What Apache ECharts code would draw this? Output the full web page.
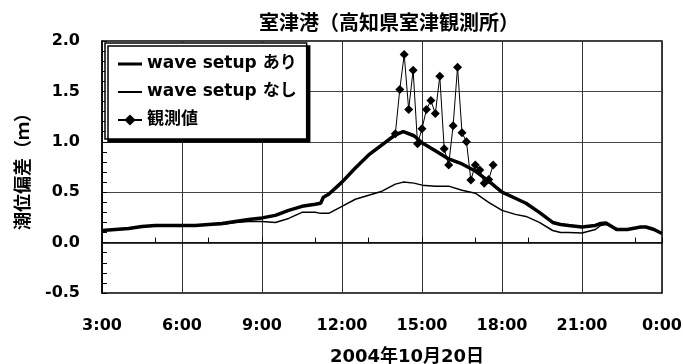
<!DOCTYPE html>
<html>
<head>
<meta charset="utf-8">
<script src="https://cdn.jsdelivr.net/npm/echarts@6/dist/echarts.min.js"></script>
<style>
  html, body { margin: 0; padding: 0; background: #fff; }
  #chart { width: 683px; height: 364px; }
</style>
</head>
<body>
<div id="chart"></div>
<script>
// 時刻（時）
const setupHours = [3.0, 3.5, 4.0, 4.5, 5.0, 5.5, 6.0, 6.5, 7.0, 7.5, 8.0, 8.5, 9.0, 9.5, 10.0, 10.5,
  11.0, 11.2, 11.3, 11.5, 12.0, 12.5, 13.0, 13.5, 14.0, 14.3, 14.7, 15.0, 15.5, 16.0, 16.5,
  17.0, 17.5, 18.0, 18.5, 18.9, 19.4, 19.9, 20.2, 20.5, 21.0, 21.5, 21.7, 21.9, 22.3, 22.7,
  23.2, 23.4, 23.7, 24.0];
// wave setup あり
const setupOn = [0.12, 0.13, 0.14, 0.16, 0.17, 0.17, 0.17, 0.17, 0.18, 0.19, 0.21, 0.23, 0.245, 0.27, 0.32, 0.36,
  0.38, 0.39, 0.45, 0.48, 0.60, 0.74, 0.87, 0.97, 1.07, 1.10, 1.06, 0.99, 0.91, 0.83, 0.78,
  0.71, 0.61, 0.50, 0.44, 0.39, 0.30, 0.20, 0.18, 0.17, 0.155, 0.17, 0.19, 0.195, 0.13, 0.13,
  0.155, 0.155, 0.13, 0.09];
// wave setup なし
const setupOff = [0.12, 0.13, 0.14, 0.16, 0.17, 0.17, 0.17, 0.17, 0.18, 0.18, 0.20, 0.21, 0.21, 0.20, 0.24, 0.30,
  0.30, 0.29, 0.29, 0.29, 0.36, 0.43, 0.47, 0.51, 0.58, 0.60, 0.59, 0.57, 0.56, 0.56, 0.52,
  0.49, 0.40, 0.32, 0.28, 0.26, 0.20, 0.12, 0.10, 0.10, 0.095, 0.13, 0.17, 0.18, 0.14, 0.13,
  0.15, 0.155, 0.13, 0.09];
// 観測値 (14:00〜17:40, 10分毎)
const obsHours = [14.0, 14.167, 14.333, 14.5, 14.667, 14.833, 15.0, 15.167, 15.333, 15.5, 15.667, 15.833,
  16.0, 16.167, 16.333, 16.5, 16.667, 16.833, 17.0, 17.167, 17.333, 17.5, 17.667];
const obsValues = [1.08, 1.52, 1.865, 1.32, 1.71, 0.98, 1.13, 1.32, 1.41, 1.28, 1.65, 0.93,
  0.77, 1.16, 1.74, 1.09, 1.00, 0.62, 0.77, 0.72, 0.59, 0.625, 0.77];
const yTicks = ['-0.5', '0.0', '0.5', '1.0', '1.5', '2.0'];

const pair = (xs, ys) => xs.map((x, i) => [x, ys[i]]);
const FONT = '"DejaVu Sans", "Noto Sans CJK JP", sans-serif';
const txt = (size) => ({ fontSize: size, fontWeight: 'bold', color: '#000', fontFamily: FONT });

const chart = echarts.init(document.getElementById('chart'));
chart.setOption({
  animation: false,
  textStyle: { fontFamily: FONT },
  title: {
    text: '室津港（高知県室津観測所）',
    left: 384,
    top: 10,
    textAlign: 'center',
    textStyle: txt(20),
  },
  grid: {
    left: 102, right: 21, top: 41, bottom: 71,
    outerBoundsMode: 'none',
    show: true, borderColor: '#000', borderWidth: 1.5, backgroundColor: '#fff',
  },
  legend: {
    orient: 'vertical',
    left: 105,
    top: 43,
    padding: [12, 10, 10, 12],
    itemGap: 10,
    itemWidth: 24,
    itemHeight: 14,
    backgroundColor: '#fff',
    borderColor: '#000',
    borderWidth: 1.5,
    shadowColor: '#000',
    shadowBlur: 0,
    shadowOffsetX: 3,
    shadowOffsetY: 3,
    textStyle: Object.assign(txt(17), { lineHeight: 18 }),
    data: [
      { name: 'wave setup あり', icon: 'path://M0,0H24V3H0Z' },
      { name: 'wave setup なし', icon: 'path://M0,0H24V2H0Z' },
      { name: '観測値' },
    ],
  },
  xAxis: [{
    type: 'value',
    min: 3,
    max: 24,
    interval: 3,
    name: '2004年10月20日',
    nameLocation: 'middle',
    nameGap: 55,
    nameTextStyle: Object.assign(txt(18), { padding: [0, 0, 0, 50] }),
    axisLine: { lineStyle: { color: '#000', width: 1.5 } },
    axisTick: { show: false },
    axisLabel: Object.assign(txt(16), {
      margin: 25,
      formatter: (v) => `${v % 24}:00`,
    }),
    splitLine: { show: true, lineStyle: { color: '#333', width: 1 } },
  }, {
    type: 'value',
    position: 'bottom',
    min: 3,
    max: 24,
    interval: 2,
    axisLine: { show: false },
    axisLabel: { show: false },
    axisTick: { show: true, inside: true, length: 5, lineStyle: { color: '#000' } },
    splitLine: { show: false },
  }],
  yAxis: [{
    type: 'value',
    min: -0.5,
    max: 2.0,
    interval: 0.5,
    name: '潮位偏差（ｍ）',
    nameLocation: 'middle',
    nameGap: 69,
    nameTextStyle: txt(18),
    axisLine: { show: true, lineStyle: { color: '#000', width: 1.5 } },
    axisTick: { show: false },
    axisLabel: Object.assign(txt(16), {
      margin: 22,
      formatter: (v) => yTicks.find((t) => Math.abs(parseFloat(t) - v) < 1e-6) || v.toFixed(1),
    }),
    splitLine: { show: true, lineStyle: { color: '#444', width: 1 } },
  }, {
    type: 'value',
    position: 'left',
    min: -0.5,
    max: 2.0,
    interval: 0.1,
    axisLine: { show: false },
    axisLabel: { show: false },
    axisTick: { show: true, inside: true, length: 5, lineStyle: { color: '#000' } },
    splitLine: { show: false },
  }],
  series: [{
    name: 'wave setup なし',
    type: 'line',
    data: pair(setupHours, setupOff),
    showSymbol: false,
    symbol: 'none',
    lineStyle: { color: '#000', width: 1.5 },
    itemStyle: { color: '#000' },
    z: 3,
  }, {
    name: 'wave setup あり',
    type: 'line',
    data: pair(setupHours, setupOn),
    showSymbol: false,
    symbol: 'none',
    lineStyle: { color: '#000', width: 3.5 },
    itemStyle: { color: '#000' },
    z: 4,
  }, {
    name: '観測値',
    type: 'line',
    data: pair(obsHours, obsValues),
    symbol: 'diamond',
    symbolSize: 9,
    lineStyle: { color: '#000', width: 1 },
    itemStyle: { color: '#000' },
    z: 5,
  }],
});
</script>
</body>
</html>
